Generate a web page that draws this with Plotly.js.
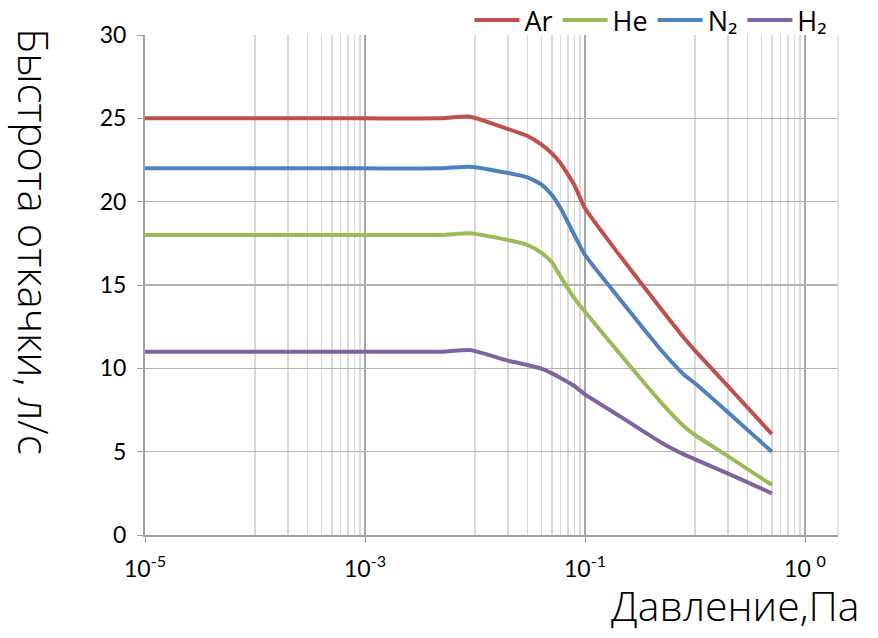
<!DOCTYPE html>
<html>
<head>
<meta charset="utf-8">
<script src="https://cdn.plot.ly/plotly-3.0.1.min.js"></script>
<style>html,body{margin:0;padding:0;background:#fff;}#chart{width:878px;height:638px;}</style>
</head>
<body>
<div id="chart"></div>
<script>
// Pressure, Pa
var pressure = [1e-5, 1e-4, 1e-3, 0.005, 0.009, 0.02, 0.03, 0.04, 0.05, 0.06, 0.08, 0.1, 0.2, 0.5, 0.8, 1, 2, 5];
// Pumping speed, l/s
var speedAr = [25, 25, 25, 25, 25.1, 24.36, 23.94, 23.44, 22.9, 22.3, 21.0, 19.6, 16.9, 13.5, 11.8, 11.06, 8.92, 6.05];
var speedHe = [18, 18, 18, 18, 18.1, 17.7, 17.4, 16.94, 16.36, 15.5, 14.2, 13.4, 11.0, 7.9, 6.5, 6.0, 4.72, 3.0];
var speedN2 = [22, 22, 22, 22, 22.1, 21.72, 21.46, 21.04, 20.4, 19.6, 18.0, 16.8, 14.28, 11.04, 9.6, 9.1, 7.35, 5.0];
var speedH2 = [11, 11, 11, 11, 11.1, 10.46, 10.2, 9.98, 9.7, 9.42, 8.94, 8.44, 7.19, 5.52, 4.82, 4.54, 3.68, 2.5];
var seriesNames = ["Ar", "He", "N\u2082", "H\u2082"];
var seriesColors = ["#C0504D", "#9BBB59", "#4F81BD", "#8064A2"];

var xTickVals = [1e-5, 1e-3, 1e-1, 10];
var xTickText = ["10<sup>-5</sup>", "10<sup>-3</sup>", "10<sup>-1</sup>", "10 <sup>0</sup>"];
var yTickVals = [0, 5, 10, 15, 20, 25, 30];

// minor gridlines (base-100 log axis: 10..90 x major)
var minorVals = [];
for (var i = 0; i < 3; i++) {
  for (var k = 1; k <= 9; k++) minorVals.push(xTickVals[i] * 10 * k);
}

var allY = [speedAr, speedHe, speedN2, speedH2];
var traces = allY.map(function (ys, idx) {
  return {
    x: pressure, y: ys, name: seriesNames[idx], type: "scatter", mode: "lines",
    line: {color: seriesColors[idx], width: 4, shape: "spline", smoothing: 0.5}
  };
});

var tickFont = {family: "Lato, 'Open Sans', sans-serif", size: 23, color: "#000"};
var layout = {
  width: 878, height: 638,
  margin: {l: 145, r: 40, t: 35, b: 103, autoexpand: false},
  paper_bgcolor: "#fff", plot_bgcolor: "#fff",
  showlegend: true,
  legend: {
    orientation: "h", xref: "paper", yref: "paper",
    x: 0.992, xanchor: "right", y: 0.98, yanchor: "bottom",
    font: {family: "'Open Sans', sans-serif", size: 27, color: "#000"},
    itemwidth: 45, bgcolor: "rgba(0,0,0,0)", traceorder: "normal"
  },
  xaxis: {
    type: "log", range: [-5, 1.3], autorange: false,
    tickmode: "array", tickvals: xTickVals, ticktext: xTickText,
    tickfont: tickFont, ticks: "outside", ticklen: 6, tickcolor: "#a0a0a0",
    ticklabelstandoff: 6,
    showgrid: true, gridcolor: "#a6a6a6", gridwidth: 1.3,
    showline: true, linecolor: "#a0a0a0", linewidth: 2,
    zeroline: false, automargin: false,
    minor: {tickmode: "array", tickvals: minorVals, showgrid: true, gridcolor: "#d9d9d9", gridwidth: 1.3, ticks: ""}
  },
  yaxis: {
    range: [0, 30], autorange: false,
    tickmode: "array", tickvals: yTickVals,
    tickfont: tickFont, ticks: "outside", ticklen: 6, tickcolor: "#a0a0a0",
    ticklabelstandoff: 6,
    showgrid: true, gridcolor: "#b3b3b3", gridwidth: 1.3,
    showline: true, linecolor: "#a0a0a0", linewidth: 2,
    zeroline: false, automargin: false
  },
  shapes: [{
    type: "line", xref: "paper", yref: "paper", x0: 1, x1: 1, y0: 0, y1: 1,
    line: {color: "#d9d9d9", width: 1.3}
  }],
  annotations: [
    {text: "Быстрота откачки, л/с", xref: "paper", yref: "paper", x: -0.159, y: 0.588,
     showarrow: false, textangle: 90, xanchor: "center", yanchor: "middle",
     font: {family: "'Open Sans', sans-serif", size: 42, color: "#000", weight: 300}},
    {text: "Давление,Па", xref: "paper", yref: "paper", x: 1.035, y: -0.14,
     showarrow: false, xanchor: "right", yanchor: "middle",
     font: {family: "'Open Sans', sans-serif", size: 41, color: "#000", weight: 300}}
  ]
};

Plotly.newPlot("chart", traces, layout, {displayModeBar: false, staticPlot: true});
</script>
</body>
</html>
